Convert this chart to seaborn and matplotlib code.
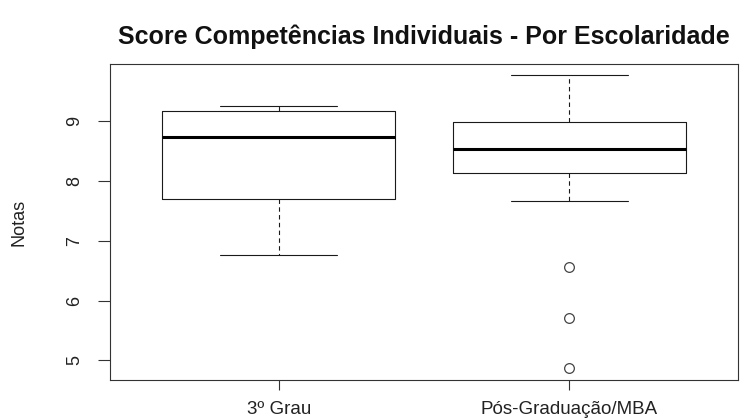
import numpy as np
import pandas as pd
import matplotlib
matplotlib.use("Agg")
import matplotlib.pyplot as plt
import seaborn as sns

# Scores per education level
categorias = ["3º Grau", "Pós-Graduação/MBA"]
notas_3grau = [6.76, 7.25, 7.70, 8.30, 8.74, 8.95, 9.165, 9.22, 9.26]
notas_pos = [4.87, 5.70, 6.56, 7.66, 8.13, 8.25, 8.35, 8.45, 8.545,
             8.65, 8.78, 8.90, 8.99, 9.15, 9.35, 9.55, 9.77]
y_ticks = [5, 6, 7, 8, 9]

titulo = "Score Competências Individuais - Por Escolaridade"
rotulo_y = "Notas"

df = pd.DataFrame({
    "grupo": [categorias[0]] * len(notas_3grau) + [categorias[1]] * len(notas_pos),
    "nota": notas_3grau + notas_pos,
})

sns.set_style("white")
plt.rcParams["font.family"] = ["Liberation Sans", "DejaVu Sans"]

W, H = 743, 419
fig = plt.figure(figsize=(W / 100, H / 100), dpi=100)
ax = fig.add_axes([110 / W, 1 - 380 / H, 628 / W, 316 / H])

line_w = 0.8
sns.boxplot(
    data=df, x="grupo", y="nota", order=categorias, ax=ax,
    width=0.8, fill=False, color="black", linewidth=line_w,
    capwidths=0.4, fliersize=7,
    boxprops={"color": "#1a1a1a", "linewidth": line_w},
    whiskerprops={"color": "#1a1a1a", "linewidth": line_w, "linestyle": (0, (4, 3))},
    capprops={"color": "#1a1a1a", "linewidth": line_w},
    medianprops={"color": "black", "linewidth": 2.2},
    flierprops={"marker": "o", "markerfacecolor": "none",
                "markeredgecolor": "#444444", "markeredgewidth": 0.9,
                "markersize": 7},
)

ax.set_xlim(-0.58, 1.58)
ax.set_ylim(4.67, 9.96)
ax.set_yticks(y_ticks)
ax.set_yticklabels([str(v) for v in y_ticks], rotation=90, va="center")
ax.set_xlabel("")
ax.set_ylabel("")

for s in ax.spines.values():
    s.set_visible(True)
    s.set_color("#333333")
    s.set_linewidth(0.8)

ax.tick_params(axis="y", direction="out", length=9, width=0.8, color="#333333",
               pad=10, labelsize=13, labelcolor="#222222", left=True)
ax.tick_params(axis="x", direction="out", length=7.5, width=0.8, color="#333333",
               pad=7.5, labelsize=13.5, labelcolor="#222222", bottom=True)

fig.text(424 / W, 1 - 44 / H, titulo, ha="center", va="baseline",
         fontsize=18, fontweight="bold", color="#111111")
fig.text(19 / W, 1 - 222 / H, rotulo_y, ha="center", va="center",
         rotation=90, fontsize=13, color="#222222")

fig.savefig("out.png", dpi=100)
